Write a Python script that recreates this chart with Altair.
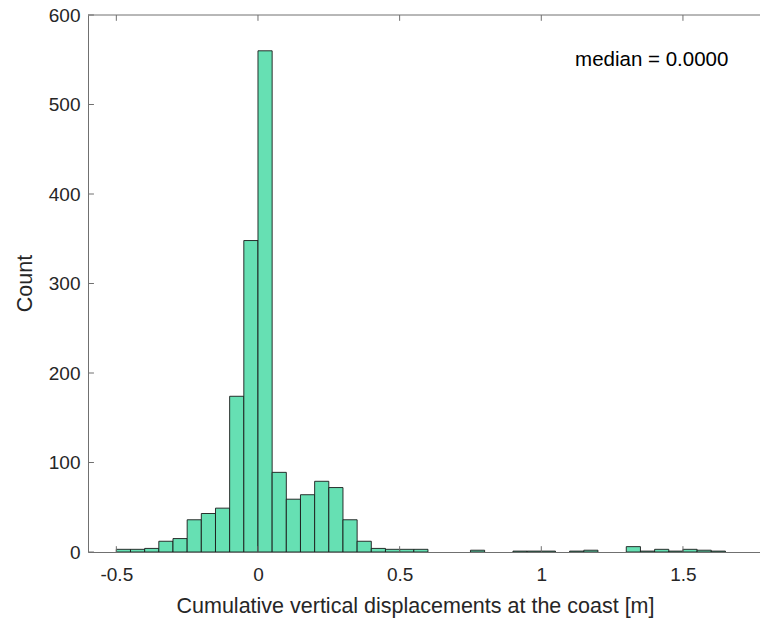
import altair as alt
import pandas as pd

# ---- data ----
bin_starts = [-0.50, -0.45, -0.40, -0.35, -0.30, -0.25, -0.20, -0.15, -0.10, -0.05,
              0.00, 0.05, 0.10, 0.15, 0.20, 0.25, 0.30, 0.35, 0.40, 0.45,
              0.50, 0.55, 0.60, 0.65, 0.70, 0.75, 0.80, 0.85, 0.90, 0.95,
              1.00, 1.05, 1.10, 1.15, 1.20, 1.25, 1.30, 1.35, 1.40, 1.45,
              1.50, 1.55, 1.60]
counts = [3, 3, 4, 12, 15, 36, 43, 49, 174, 348,
          560, 89, 59, 64, 79, 72, 36, 12, 4, 3,
          3, 3, 0, 0, 0, 2, 0, 0, 1, 1,
          1, 0, 1, 2, 0, 0, 6, 1, 3, 1,
          3, 2, 1]
bin_width = 0.05
x_ticks = [-0.5, 0, 0.5, 1, 1.5]
y_ticks = [0, 100, 200, 300, 400, 500, 600]
x_domain = [-0.6, 1.772]
y_domain = [0, 600]
x_title = "Cumulative vertical displacements at the coast [m]"
y_title = "Count"
median_label = "median = 0.0000"
median_pos = [1.39, 550]

# ---- styling ----
FONT = "Liberation Sans"
TXT = "#262626"
AX = "#707070"
FILL = "#66E0B3"
TICK_LEN_Y = 6.5     # in count units
TICK_LEN_X = 0.021   # in x units

xs = alt.Scale(domain=x_domain, nice=False, zero=False)
ys = alt.Scale(domain=y_domain, nice=False, zero=False)

x_axis = alt.Axis(values=x_ticks, ticks=False, grid=False,
                  domainColor=AX, domainWidth=1,
                  labelFont=FONT, labelFontSize=19, labelColor=TXT,
                  labelPadding=13, labelExpr="'' + datum.value",
                  title=x_title, titleFont=FONT, titleFontSize=21.5,
                  titleFontWeight="normal", titleColor=TXT,
                  titleBaseline="middle", titleY=54, titleX=327)
y_axis = alt.Axis(values=y_ticks, ticks=False, grid=False,
                  domainColor=AX, domainWidth=1,
                  labelFont=FONT, labelFontSize=19, labelColor=TXT,
                  labelPadding=8,
                  title=y_title, titleFont=FONT, titleFontSize=21.5,
                  titleFontWeight="normal", titleColor=TXT,
                  titleAngle=270, titleBaseline="middle",
                  titleX=-63, titleY=268)


def X(f="x"):
    return alt.X(f"{f}:Q", scale=xs, axis=x_axis, title=x_title)


def Y(f="y"):
    return alt.Y(f"{f}:Q", scale=ys, axis=y_axis, title=y_title)


bars_df = pd.DataFrame({"x": bin_starts, "y": counts})
bars_df["x2"] = bars_df["x"] + bin_width
bars_df["y2"] = 0
bars_df = bars_df[bars_df["y"] > 0]

bars = alt.Chart(bars_df).mark_bar(
    fill=FILL, stroke="#1a1a1a", strokeWidth=0.9, clip=True
).encode(x=X(), x2="x2:Q", y=Y(), y2="y2:Q")

# inward tick marks (bottom, top, left)
bt = pd.DataFrame({"x": x_ticks, "y": [y_domain[0]] * len(x_ticks),
                   "y2": [y_domain[0] + TICK_LEN_Y] * len(x_ticks)})
tt = pd.DataFrame({"x": x_ticks, "y": [y_domain[1]] * len(x_ticks),
                   "y2": [y_domain[1] - TICK_LEN_Y] * len(x_ticks)})
lt = pd.DataFrame({"y": y_ticks, "x": [x_domain[0]] * len(y_ticks),
                   "x2": [x_domain[0] + TICK_LEN_X] * len(y_ticks)})

tick_b = alt.Chart(bt).mark_rule(color=AX, strokeWidth=1).encode(x=X(), y=Y(), y2="y2:Q")
tick_t = alt.Chart(tt).mark_rule(color=AX, strokeWidth=1).encode(x=X(), y=Y(), y2="y2:Q")
tick_l = alt.Chart(lt).mark_rule(color=AX, strokeWidth=1).encode(x=X(), x2="x2:Q", y=Y())

top_df = pd.DataFrame({"x": [x_domain[0]], "x2": [x_domain[1]], "y": [y_domain[1]]})
top_line = alt.Chart(top_df).mark_rule(color=AX, strokeWidth=1).encode(x=X(), x2="x2:Q", y=Y())

txt_df = pd.DataFrame({"x": [median_pos[0]], "y": [median_pos[1]], "t": [median_label]})
median_text = alt.Chart(txt_df).mark_text(
    font=FONT, fontSize=20.5, color="#000000", align="center", baseline="middle"
).encode(x=X(), y=Y(), text="t:N")

chart = alt.layer(bars, tick_b, tick_t, tick_l, top_line, median_text).properties(
    width=672, height=537,
    autosize=alt.AutoSizeParams(type="none"),
    padding={"left": 88, "top": 15, "right": 0, "bottom": 70},
    background="white",
).configure_view(stroke=None)

chart.save("out.html", embed_options={"renderer": "svg", "actions": False})
